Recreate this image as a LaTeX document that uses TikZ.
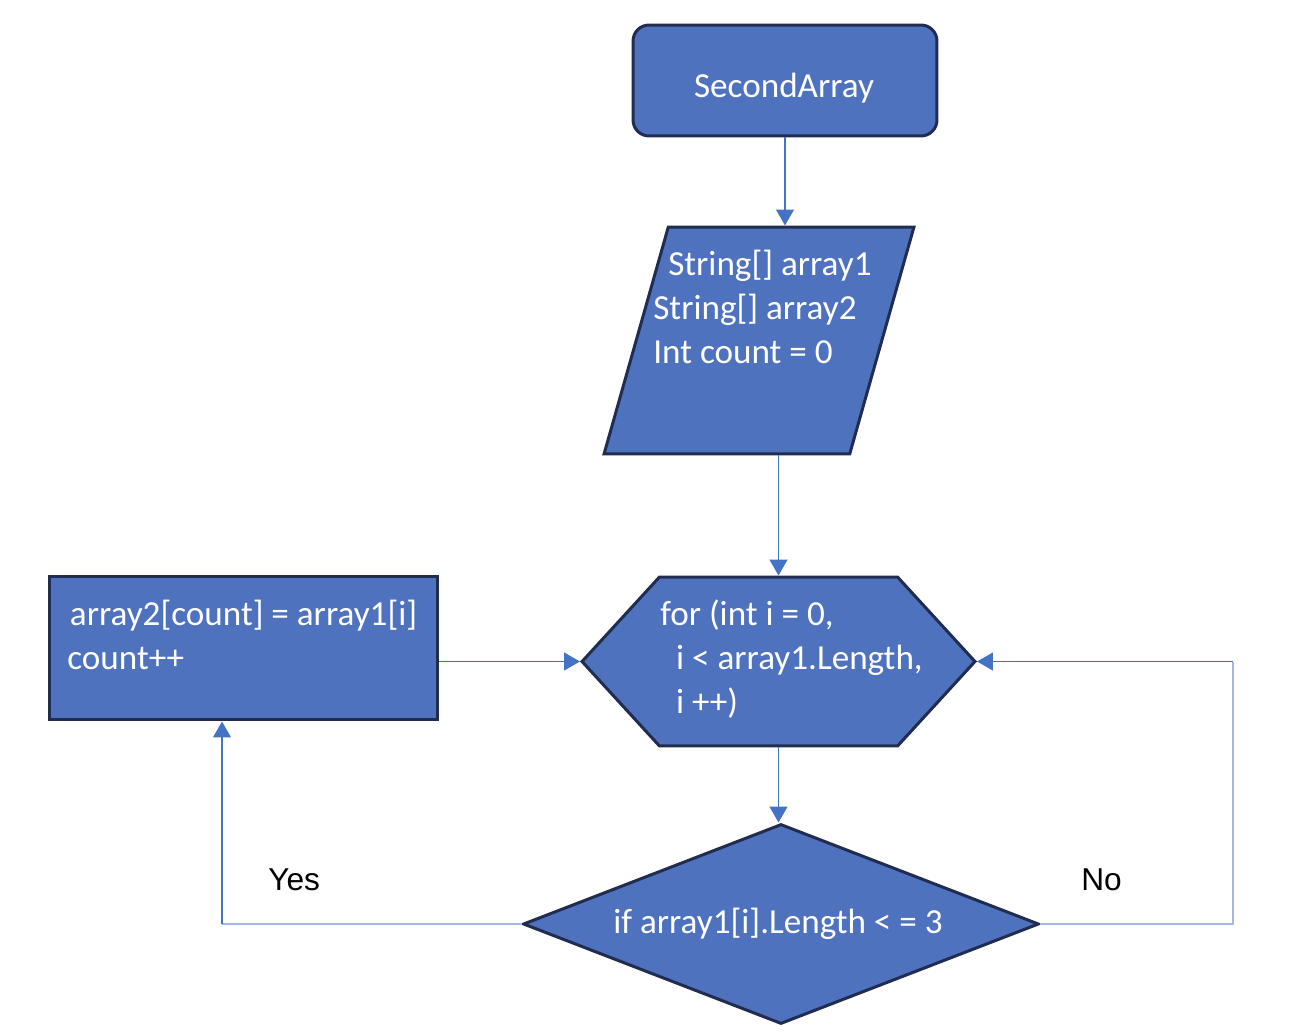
\documentclass[tikz,border=0pt]{standalone}
\usepackage{fontspec}
\setmainfont{Carlito}
\newfontfamily\labelfont{Liberation Sans}
\usetikzlibrary{shapes.geometric,shapes.symbols,arrows.meta}
\definecolor{boxfill}{RGB}{79,114,190}
\definecolor{boxline}{RGB}{32,44,80}
\definecolor{flow}{RGB}{68,114,196}
\definecolor{flowlight}{RGB}{165,182,224}
\begin{document}
\begin{tikzpicture}[x=0.02cm,y=-0.02cm,
  block/.style={draw=boxline,fill=boxfill,line width=1.7pt,inner sep=2pt},
  txt/.style={text=white,font=\fontsize{20}{25}\selectfont,inner sep=0pt,align=left},
  lbl/.style={font=\labelfont\fontsize{18}{22}\selectfont,inner sep=0pt},
  flowarrow/.style={flow,line width=1.1pt,-{Triangle[length=9pt,width=10pt]}},
  flowline/.style={flowlight,line width=0.8pt}]
\useasboundingbox (0,0) rectangle (1305,1034);

\node[block,rectangle,rounded corners=0.32cm,minimum width=6.08cm,minimum height=2.22cm] (start) at (785,80.5) {};
\node[txt,anchor=base] (startT) at (784,98) {SecondArray};

\node[block,trapezium,trapezium left angle=70.5,trapezium right angle=109.5,trapezium stretches=true,minimum width=6.2cm,minimum height=4.54cm] (input) at (759,340.5) {};
\node[txt,anchor=base west] (inputT) at (653,363) {\hspace*{8.5pt}String[] array1\\String[] array2\\Int count = 0};
\draw[flowarrow] (start.south) -- (start.south |- input.north);

\node[block,signal,signal to=west and east,signal pointer angle=95,minimum width=7.86cm,minimum height=3.38cm] (loop) at (778.5,661.5) {};
\node[txt,anchor=base west] (loopT) at (660,713) {for (int i = 0,\\\hspace*{9pt}i < array1.Length,\\\hspace*{9pt}i ++)};
\draw[flowarrow] (loop.north |- input.south) -- (loop.north);

\node[block,rectangle,minimum width=7.78cm,minimum height=2.88cm] (update) at (243.5,648) {};
\node[txt,anchor=base west] (updateT) at (67,669) {\hspace*{1.5pt}array2[count] = array1[i]\\count++};
\draw[flowarrow] (update.east |- loop.west) -- (loop.west);

\node[block,diamond,minimum width=10.32cm,minimum height=4cm] (cond) at (781,924) {};
\node[txt,anchor=base] (condT) at (778,933) {if array1[i].Length < = 3};
\draw[flowarrow] (loop.south) -- (loop.south |- cond.north);

\coordinate (yesbend) at (222,924);
\coordinate (nobend) at (1233,924);
\draw[flowline] (cond.west) -- (yesbend);
\draw[flowarrow] (yesbend) -- (yesbend |- update.south);
\draw[flowline] (cond.east) -- (nobend) -- (nobend |- loop.east);
\draw[flowarrow] (nobend |- loop.east) -- (loop.east);

\node[lbl,anchor=base west] (yes) at (268,890) {Yes};
\node[lbl,anchor=base west] (no) at (1081,890) {No};
\end{tikzpicture}
\end{document}
